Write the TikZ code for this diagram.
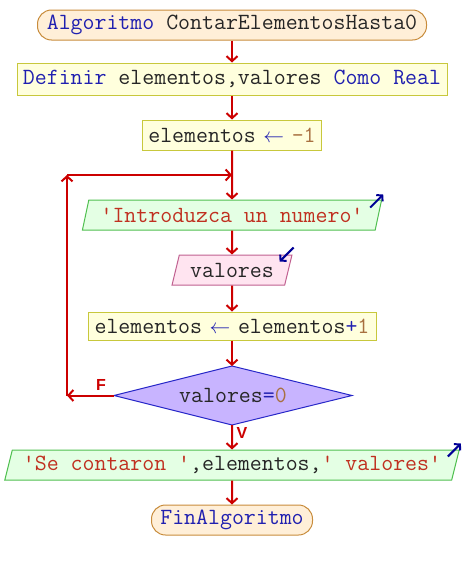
\documentclass[tikz,border=0pt]{standalone}
\usepackage{fontspec}
\newfontfamily\lblfont{Liberation Sans}
\usetikzlibrary{shapes.geometric,arrows.meta}

\definecolor{kwblue}{HTML}{2020B0}
\definecolor{numbrown}{HTML}{A87040}
\definecolor{strred}{HTML}{C03020}
\definecolor{flowred}{HTML}{CC0000}
\definecolor{iconblue}{HTML}{000096}
\definecolor{termfill}{HTML}{FFEFD8}
\definecolor{termdraw}{HTML}{C88C3C}
\definecolor{procfill}{HTML}{FFFFDD}
\definecolor{procdraw}{HTML}{C8C83C}
\definecolor{outfill}{HTML}{E4FFE4}
\definecolor{outdraw}{HTML}{50C050}
\definecolor{infill}{HTML}{FFE4F0}
\definecolor{indraw}{HTML}{C06090}
\definecolor{decfill}{HTML}{C8B4FF}
\definecolor{decdraw}{HTML}{2828C8}

\newcommand{\kw}[1]{\textcolor{kwblue}{#1}}
\newcommand{\num}[1]{\textcolor{numbrown}{#1}}
\newcommand{\str}[1]{\textcolor{strred}{#1}}
% assignment arrow, one character cell wide, spilling into the spaces
\newcommand{\asg}{\textcolor{kwblue}{\makebox[12pt][c]{\fontsize{20}{22}\selectfont$\leftarrow$}}}

\begin{document}
\begin{tikzpicture}[x=1pt,y=-1pt,
  base/.style={font=\ttfamily\fontsize{23.2}{24}\selectfont, text=black!85, inner sep=0pt, line width=1pt},
  term/.style={base, rectangle, rounded corners=14pt, fill=termfill, draw=termdraw, minimum height=30pt},
  proc/.style={base, rectangle, fill=procfill, draw=procdraw, minimum height=30pt},
  io/.style={base, trapezium, trapezium left angle=68, trapezium right angle=112,
    trapezium stretches=true, minimum height=30pt},
  outbox/.style={io, fill=outfill, draw=outdraw},
  inbox/.style={io, fill=infill, draw=indraw},
  decision/.style={base, rectangle, minimum width=238pt, minimum height=59pt},
  flow/.style={draw=flowred, line width=2pt, -{Straight Barb[length=5pt,width=11pt,line width=2pt]}},
  icon/.style={draw=iconblue, line width=2pt, -{Straight Barb[length=4pt,width=9pt,line width=2pt]}},
  lbl/.style={font=\lblfont\bfseries\fontsize{16}{18}\selectfont, text=flowred, inner sep=0pt}
]
\useasboundingbox (0,0) rectangle (464,570);

% diamond outline of the decision, drawn behind its text node
\coordinate (dW) at (114,395.5);
\coordinate (dN) at (232,366);
\coordinate (dE) at (352,395.5);
\coordinate (dS) at (232,425);
\draw[fill=decfill, draw=decdraw, line width=1pt] (dW) -- (dN) -- (dE) -- (dS) -- cycle;

% blocks of the flowchart
\node[term, minimum width=389pt] (start) at (232,25) {\kw{Algoritmo} ContarElementosHasta0};
\node[proc, minimum width=430pt, minimum height=32pt] (def) at (232,79)
  {\kw{Definir} elementos,valores \kw{Como} \kw{Real}};
\node[proc, minimum width=179pt] (e1) at (232,135) {elementos \asg{} \num{-1}};
\node[outbox, minimum width=300pt] (in1) at (232,215) {\str{'Introduzca un numero'}};
\node[inbox, minimum width=120pt] (rd) at (232,270) {valores};
\node[proc, minimum width=288pt, minimum height=28pt] (e2) at (232,326)
  {elementos \asg{} elementos\kw{+}\num{1}};
\node[decision] (d) at (233,395.5) {valores\kw{=}\num{0}};
\node[outbox, minimum width=456pt] (out) at (232,465)
  {\str{'Se contaron '},elementos,\str{' valores'}};
\node[term, minimum width=161pt] (fin) at (232,520) {\kw{FinAlgoritmo}};

% branch labels
\node[lbl] (fl) at (101,385) {F};
\node[lbl] (vl) at (242,433) {V};

% loop corners
\coordinate (lc1) at (67,395.5);
\coordinate (lc2) at (67,175);
\coordinate (lc3) at (232,175);

% main flow
\draw[flow] (start.south) -- (def.north);
\draw[flow] (def.south) -- (e1.north);
\draw[flow] (e1.south) -- (in1.north);
\draw[flow] (in1.south) -- (rd.north);
\draw[flow] (rd.south) -- (e2.north);
\draw[flow] (e2.south) -- (dN);
\draw[flow] (dS) -- (out.north);
\draw[flow] (out.south) -- (fin.north);

% loop back on F
\draw[flow] (dW) -- (lc1);
\draw[flow] (lc1) -- (lc2);
\draw[flow] (lc2) -- (lc3);

% input / output markers
\draw[icon] ([shift={(-12,8)}]in1.top right corner) -- ([shift={(1,-5)}]in1.top right corner);
\draw[icon] ([shift={(1,-7)}]rd.top right corner) -- ([shift={(-13,7)}]rd.top right corner);
\draw[icon] ([shift={(-12,7)}]out.top right corner) -- ([shift={(1,-6)}]out.top right corner);
\end{tikzpicture}
\end{document}
